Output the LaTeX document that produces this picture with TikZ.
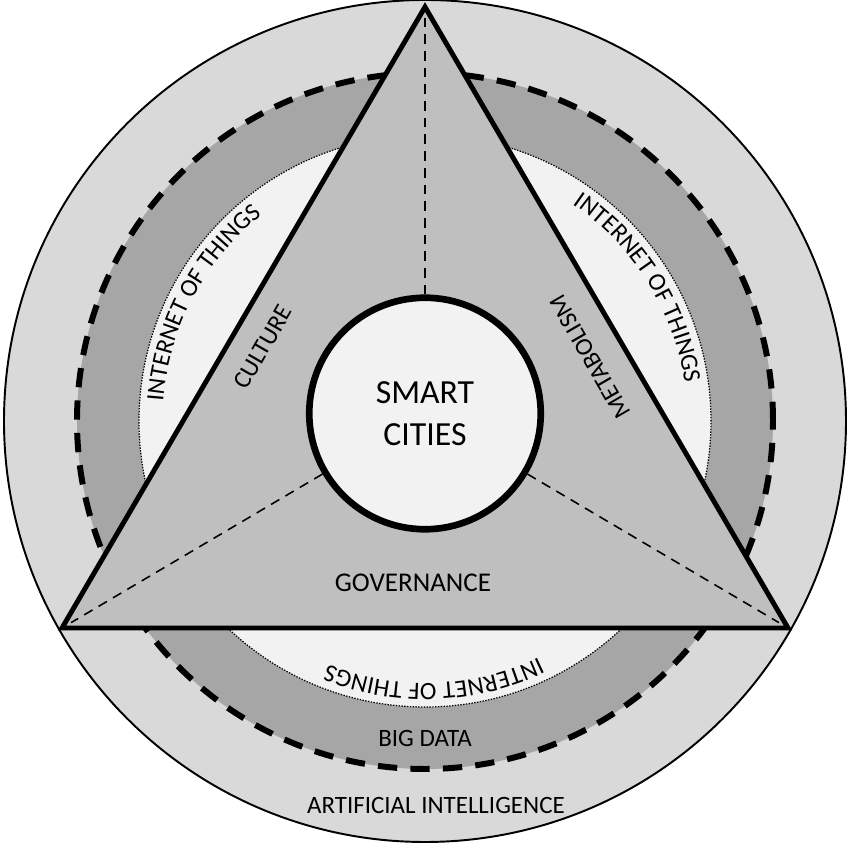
\documentclass[tikz,border=0pt]{standalone}
\usepackage{fontspec}
\setmainfont{Carlito}
\usetikzlibrary{decorations.text}
\definecolor{ringlight}{HTML}{D9D9D9}
\definecolor{ringdark}{HTML}{A6A6A6}
\definecolor{core}{HTML}{F2F2F2}
\definecolor{tri}{HTML}{BFBFBF}
\newcommand{\lblfont}{\fontsize{14.2}{17}\selectfont}
\tikzset{
  lbl/.style={font=\lblfont},
  spoke/.style={draw,line width=0.9pt,dash pattern=on 5.5pt off 4pt,shorten >=6pt},
  iot/.style={decorate,decoration={text along path,text align=center,text={|\lblfont|INTERNET OF THINGS}}}
}
\begin{document}
\begin{tikzpicture}
\useasboundingbox (-8.5,-8.5) rectangle (8.5,8.42);
\coordinate (o) at (0,0);
\path[draw,fill=ringlight,line width=1.1pt] (o) circle[radius=8.42];
\path[draw,fill=ringdark,line width=3.4pt,dash pattern=on 11pt off 7.5pt] (o) circle[radius=6.96];
\path[draw,fill=core,line width=0.7pt,dash pattern=on 0.8pt off 0.8pt] (o) circle[radius=5.72];
\coordinate (top) at (0,8.28);
\coordinate (left) at (-7.26,-4.14);
\coordinate (right) at (7.26,-4.14);
\path[fill=tri] (top) -- (left) -- (right) -- cycle;
\node[draw,circle,fill=core,line width=3.8pt,minimum size=4.63cm,inner sep=0pt,align=center,font=\fontsize{19.2}{23.8}\selectfont] (city) at (0,0.15) {SMART\\CITIES};
\path[spoke] (city) -- (top);
\path[spoke] (city) -- (left);
\path[spoke] (city) -- (right);
\path[draw,line width=2.8pt,line join=miter] (top) -- (left) -- (right) -- cycle;

\node[lbl,rotate=60] (culture) at (-3.24,1.48) {CULTURE};
\node[lbl,rotate=120] (metab) at (3.3,1.28) {METABOLISM};
\node[font=\fontsize{15.4}{18}\selectfont] (gov) at (-0.24,-3.24) {GOVERNANCE};
\node[lbl] (bigdata) at (0,-6.34) {BIG DATA};
\node[lbl] (ai) at (0.22,-7.68) {ARTIFICIAL INTELLIGENCE};
\path[iot] (187:5.25) arc[start angle=187,end angle=117,radius=5.25];
\path[iot] (67:5.25) arc[start angle=67,end angle=-3,radius=5.25];
\path[iot] (-53:5.25) arc[start angle=-53,end angle=-123,radius=5.25];
\end{tikzpicture}
\end{document}
